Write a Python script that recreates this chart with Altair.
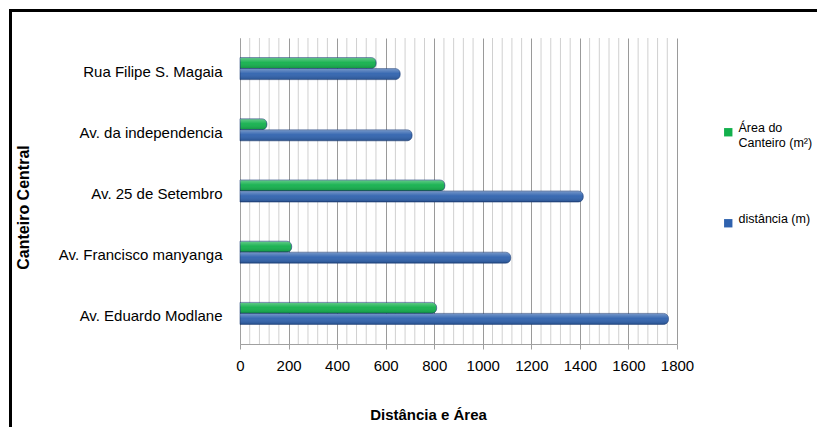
import altair as alt
import pandas as pd

categories = ["Rua Filipe S. Magaia", "Av. da independencia", "Av. 25 de Setembro",
              "Av. Francisco manyanga", "Av. Eduardo Modlane"]
area_values = [561, 111, 844, 213, 810]
dist_values = [660, 709, 1414, 1115, 1765]
series_names = ["Área do Canteiro (m²)", "distância (m)"]
series_colors = ["#12b04c", "#2f62ae"]
major_ticks = [0, 200, 400, 600, 800, 1000, 1200, 1400, 1600, 1800]
minor_ticks = [v for v in range(40, 1800, 40) if v % 200 != 0]

rows = []
for c, a, d in zip(categories, area_values, dist_values):
    rows.append({"cat": c, "series": series_names[0], "value": a})
    rows.append({"cat": c, "series": series_names[1], "value": d})
df = pd.DataFrame(rows)
minor_df = pd.DataFrame({"value": minor_ticks})

FONT = "Liberation Sans, sans-serif"

xscale = alt.Scale(domain=[0, 1800], nice=False)


def xaxis():
    return alt.Axis(
        values=major_ticks, format="d", grid=True, gridColor="#9a9a9a",
        domainColor="#a0a0a0", tickColor="#a0a0a0", tickSize=5, labelPadding=9,
        labelFont=FONT, labelFontSize=15, labelColor="black",
        title="Distância e Área", titleFont=FONT, titleFontSize=15,
        titleFontWeight="bold", titleColor="black",
        titleX=188, titleY=70, titleBaseline="middle", labelFlush=False
    )


yaxis = alt.Axis(
    ticks=False, domainColor="#a0a0a0", labelPadding=18, labelOffset=3,
    labelFont=FONT, labelFontSize=15, labelColor="black", labelLimit=300,
    title="Canteiro Central", titleFont=FONT, titleFontSize=16,
    titleFontWeight="bold", titleColor="black", titleAngle=-90,
    titleX=-217, titleY=169, titleBaseline="middle", titleAlign="center"
)

frame = alt.Chart(pd.DataFrame({"a": [0]})).mark_rect(
    fill=None, stroke="black", strokeWidth=3
).encode(x=alt.value(-229.5), x2=alt.value(600), y=alt.value(-27.5), y2=alt.value(420))

rules = alt.Chart(minor_df).mark_rule(color="#d0d0d0", strokeWidth=1).encode(
    x=alt.X("value:Q", scale=xscale, axis=xaxis())
)

yscale = alt.Scale(domain=categories, paddingInner=0.64, paddingOuter=0.32)
yoff = alt.YOffset("series:N", scale=alt.Scale(domain=series_names, paddingInner=0))

bars = alt.Chart(df).mark_bar(
    cornerRadiusEnd=5, stroke="#1d3f78", strokeWidth=0.8, strokeOpacity=0.7
).encode(
    x=alt.X("value:Q", scale=xscale, axis=xaxis()),
    y=alt.Y("cat:N", scale=yscale, axis=yaxis),
    yOffset=yoff,
    color=alt.Color(
        "series:N",
        scale=alt.Scale(domain=series_names, range=series_colors),
        legend=alt.Legend(
            orient="none", legendX=482, legendY=88, title=None,
            symbolType="square", symbolSize=70, symbolStrokeWidth=0,
            labelFont=FONT, labelFontSize=12.5, labelColor="black",
            labelExpr="datum.label == 'Área do Canteiro (m²)' ? ['Área do', 'Canteiro (m²)'] : datum.label",
            rowPadding=63, labelLimit=200, labelBaseline="alphabetic", labelOffset=4
        ),
    ),
)

shine = alt.Chart(df).mark_bar(
    cornerRadiusEnd=5,
    color=alt.Gradient(
        gradient="linear", x1=0, x2=0, y1=0, y2=1,
        stops=[alt.GradientStop(offset=0, color="rgba(255,255,255,0.35)"),
               alt.GradientStop(offset=0.45, color="rgba(255,255,255,0.05)"),
               alt.GradientStop(offset=1, color="rgba(0,0,0,0.18)")]
    ),
).encode(
    x=alt.X("value:Q", scale=xscale, axis=xaxis()),
    y=alt.Y("cat:N", scale=yscale, axis=yaxis),
    yOffset=yoff,
)

chart = alt.layer(frame, rules, bars, shine).properties(
    width=437, height=306,
    autosize=alt.AutoSizeParams(type="none"),
    padding={"left": 240, "top": 38, "right": 140, "bottom": 83},
    background="white",
).configure_view(stroke=None)

chart.save("out.html", embed_options={"renderer": "svg", "actions": False})
